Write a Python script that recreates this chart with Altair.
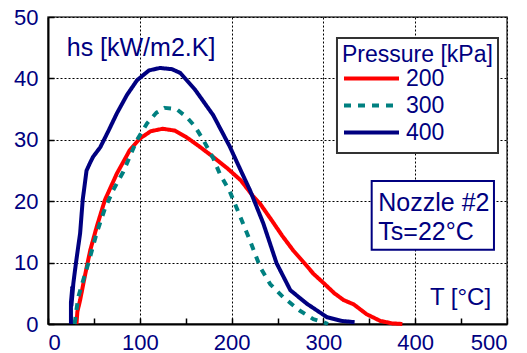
import altair as alt
import pandas as pd

# ---- data ----
T200 = [31, 32, 35, 40, 46, 53, 62, 75, 89, 100, 112, 125, 138, 150, 165, 180, 195, 210, 224, 231, 245, 255, 267, 280, 289, 300, 312, 322, 333, 347, 362, 375, 386]
H200 = [0, 2, 3.9, 7.7, 12, 15.8, 20.2, 24.5, 28.3, 30.2, 31.4, 31.8, 31.5, 30.5, 28.9, 27.2, 25.4, 23.4, 20.7, 19.6, 16.6, 14.4, 12, 9.8, 8.2, 6.7, 5.0, 3.9, 3.2, 1.6, 0.5, 0.1, 0]

T300 = [29, 31, 33, 38.5, 44, 53, 62, 71, 82, 97, 108, 118, 127, 140, 151, 160, 169, 180, 187, 198, 211, 220, 231, 242, 256, 274, 289, 300, 305]
H300 = [0, 2.3, 4.4, 7.2, 9.9, 14.8, 18.8, 21.8, 24.8, 30, 32.7, 34.4, 35.2, 35, 33.7, 32.2, 30, 27.0, 24.5, 21.6, 16.9, 13.6, 9.3, 6.5, 4.4, 2.2, 0.8, 0.3, 0]

T400 = [25, 25, 26.5, 25.5, 27, 27.6, 30.5, 35, 37.8, 42, 46, 49, 57, 66, 75, 86, 97, 110, 122, 135, 144, 160, 180, 198, 210, 220, 234.5, 249, 264, 282, 304, 320, 334]
H400 = [0, 3.5, 6, 3, 5.5, 6.6, 10, 14.8, 20.2, 25, 26.3, 27.2, 28.8, 31.5, 34.3, 37.3, 39.7, 41.3, 41.7, 41.5, 40.9, 38.2, 34, 28.9, 25, 21.8, 16.4, 9.9, 5.5, 3.3, 1.1, 0.5, 0.3]

SERIES = ["200", "300", "400"]
COLORS = ["#ff0000", "#008080", "#000080"]
DASHES = [[1, 0], [7, 7], [1, 0]]

X_TICKS = list(range(0, 501, 50))
Y_TICKS = list(range(0, 51, 5))

rows = []
for name, ts, hs in zip(SERIES, [T200, T300, T400], [H200, H300, H400]):
    for i, (t, h) in enumerate(zip(ts, hs)):
        rows.append({"P": name, "T": t, "h": h, "i": i})
df = pd.DataFrame(rows)

# annotation boxes (data units) and texts
boxes = pd.DataFrame([
    {"x": 314.8, "x2": 490.2, "y": 46.6, "y2": 27.85, "stroke": "#333333"},
    {"x": 352.6, "x2": 485.8, "y": 23.3, "y2": 12.1, "stroke": "#000080"},
])
texts = pd.DataFrame([
    {"x": 20.4, "y": 43.65, "text": "hs [kW/m2.K]", "size": 25},
    {"x": 359.8, "y": 18.35, "text": "Nozzle #2", "size": 25},
    {"x": 359.8, "y": 13.7, "text": "Ts=22°C", "size": 25},
    {"x": 416.0, "y": 3.1, "text": "T [°C]", "size": 24},
])

NAVY = "#000080"
xs = alt.Scale(domain=[0, 500], nice=False)
ys = alt.Scale(domain=[0, 50], nice=False)

x_axis = alt.Axis(
    values=X_TICKS, title=None,
    labelExpr="datum.value % 100 === 0 ? datum.label : ''",
    gridOpacity={"condition": {"test": "datum.value % 100 === 0", "value": 1}, "value": 0},
    tickSize={"expr": "-6"},
    labelPadding=14,
)
y_axis = alt.Axis(
    values=Y_TICKS, title=None,
    labelExpr="datum.value % 10 === 0 ? datum.label : ''",
    gridOpacity={"condition": {"test": "datum.value % 10 === 0", "value": 1}, "value": 0},
    tickSize={"expr": "-6"},
    labelPadding=16,
)

legend = alt.Legend(
    title="Pressure [kPa]", orient="none", legendX=294, legendY=27,
    symbolType="stroke", symbolSize=3025, symbolStrokeWidth=4,
    clipHeight=23,
    labelOffset=5, rowPadding=3, titlePadding=0, padding=0,
)

lines = alt.Chart(df).mark_line(strokeWidth=4, strokeJoin="round").encode(
    x=alt.X("T:Q", scale=xs, axis=x_axis),
    y=alt.Y("h:Q", scale=ys, axis=y_axis),
    color=alt.Color("P:N", scale=alt.Scale(domain=SERIES, range=COLORS), legend=legend),
    strokeDash=alt.StrokeDash("P:N", scale=alt.Scale(domain=SERIES, range=DASHES), legend=legend),
    order=alt.Order("i:Q"),
)

rects = alt.Chart(boxes).mark_rect(fill="white", strokeWidth=2).encode(
    x="x:Q", x2="x2", y="y:Q", y2="y2",
    stroke=alt.Stroke("stroke:N", scale=None),
)

labels = alt.Chart(texts).mark_text(align="left", baseline="alphabetic", color=NAVY).encode(
    x="x:Q", y="y:Q", text="text:N",
    size=alt.Size("size:Q", scale=None, legend=None),
)

chart = alt.layer(rects, lines, labels).properties(
    width=459, height=307,
    autosize=alt.AutoSizeParams(type="none"),
    padding={"left": 48, "top": 17, "right": 20, "bottom": 29},
).configure(
    font="Liberation Sans",
).configure_view(
    stroke="#444444", strokeWidth=1.5,
).configure_axis(
    domainColor="black", domainWidth=2,
    tickColor="black", tickWidth=1.5,
    gridColor="black", gridDash=[2, 2], gridWidth=1,
    labelColor=NAVY, labelFontSize=22, labelFont="Liberation Sans",
).configure_legend(
    titleColor=NAVY, titleFontSize=23, titleFontWeight="normal", titleFont="Liberation Sans",
    labelColor=NAVY, labelFontSize=23, labelFont="Liberation Sans",
)

chart.save("out.html", embed_options={"renderer": "svg", "actions": False})
